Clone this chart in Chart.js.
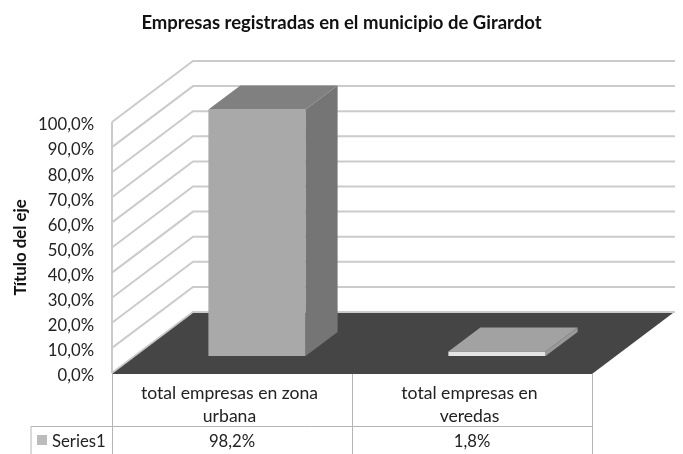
<!DOCTYPE html>
<html>
<head>
<meta charset="utf-8">
<title>Empresas registradas</title>
<script src="https://cdn.jsdelivr.net/npm/chart.js@4"></script>
<style>
  html, body { margin: 0; background: #fff; }
  canvas { display: block; }
</style>
</head>
<body>
<canvas id="empresasChart" width="683" height="454"></canvas>
<script>
const categories = [['total empresas en zona', 'urbana'], ['total empresas en', 'veredas']];
const seriesName = 'Series1';
const seriesValues = [98.2, 1.8];
const frontColors = ['#a9a9a9', '#e4e4e4'];
const topColors = ['#808080', '#a2a2a2'];
const sideColors = ['#757575', '#999999'];

const fontFamily = 'Lato, "Open Sans", sans-serif';
const textColor = '#222';
const percent = v => v.toFixed(1).replace('.', ',') + '%';

// depth of the fake 3D box and of the bars inside it
const wall = { dx: 81, dy: 61 };
const barShift = { dx: 25, dy: 17 };
const barDepth = { dx: 32, dy: 24 };

function poly(ctx, pts, fill) {
    ctx.beginPath();
    pts.forEach((p, i) => i ? ctx.lineTo(p[0], p[1]) : ctx.moveTo(p[0], p[1]));
    ctx.closePath();
    ctx.fillStyle = fill;
    ctx.fill();
}

const box3d = {
    id: 'box3d',
    beforeDatasetsDraw(chart) {
        const { ctx, scales: { y }, chartArea: a } = chart;
        ctx.save();
        ctx.strokeStyle = '#cbcbcb';
        ctx.lineWidth = 2;
        y.ticks.forEach(t => {
            const py = y.getPixelForValue(t.value);
            ctx.beginPath();
            ctx.moveTo(a.left, py);
            ctx.lineTo(a.left + wall.dx, py - wall.dy);
            ctx.lineTo(a.right + wall.dx + 2, py - wall.dy);
            ctx.stroke();
        });
        ctx.beginPath();
        ctx.moveTo(a.left, a.top);
        ctx.lineTo(a.left, a.bottom);
        ctx.stroke();

        const b = y.getPixelForValue(0) + 1;
        poly(ctx, [[a.left, b], [a.left + wall.dx, b - wall.dy], [a.right + wall.dx, b - wall.dy], [a.right, b]], '#454545');
        ctx.restore();
    },
    beforeDatasetDraw(chart) {
        chart.ctx.save();
        chart.ctx.translate(barShift.dx, -barShift.dy);
    },
    afterDatasetDraw(chart, args) {
        const ctx = chart.ctx;
        args.meta.data.forEach((bar, i) => {
            const l = bar.x - bar.width / 2, r = bar.x + bar.width / 2;
            poly(ctx, [[l, bar.y], [l + barDepth.dx, bar.y - barDepth.dy], [r + barDepth.dx, bar.y - barDepth.dy], [r, bar.y]], topColors[i]);
            poly(ctx, [[r, bar.y], [r + barDepth.dx, bar.y - barDepth.dy], [r + barDepth.dx, bar.base - barDepth.dy], [r, bar.base]], sideColors[i]);
        });
        ctx.restore();
    },
    afterDraw(chart) {
        // data table under the plot
        const { ctx, scales: { x }, chartArea: a } = chart;
        const rowTop = 426, tableBottom = chart.height, tableLeft = 31;
        ctx.save();
        ctx.strokeStyle = '#b5b5b5';
        ctx.lineWidth = 1;
        ctx.beginPath();
        ctx.moveTo(tableLeft, tableBottom);
        ctx.lineTo(tableLeft, rowTop + 0.5);
        ctx.lineTo(a.right, rowTop + 0.5);
        [a.left, (a.left + a.right) / 2, a.right].forEach(px => {
            ctx.moveTo(Math.round(px) + 0.5, a.bottom + 1);
            ctx.lineTo(Math.round(px) + 0.5, tableBottom);
        });
        ctx.stroke();

        ctx.fillStyle = '#bcbcbc';
        ctx.fillRect(37, 435, 10, 10);

        ctx.fillStyle = textColor;
        ctx.font = '16.7px ' + fontFamily;
        ctx.textBaseline = 'middle';
        ctx.textAlign = 'left';
        ctx.fillText(seriesName, 52, 442);
        ctx.textAlign = 'center';
        seriesValues.forEach((v, i) => ctx.fillText(percent(v), x.getPixelForTick(i), 442));
        ctx.restore();
    }
};

new Chart(document.getElementById('empresasChart').getContext('2d'), {
    type: 'bar',
    data: {
        labels: categories,
        datasets: [{
            label: seriesName,
            data: seriesValues,
            backgroundColor: frontColors,
            barPercentage: 0.405,
            categoryPercentage: 1,
            clip: false
        }]
    },
    plugins: [box3d],
    options: {
        responsive: false,
        animation: false,
        layout: { padding: 0 },
        plugins: {
            legend: { display: false },
            tooltip: { enabled: false },
            title: {
                display: true,
                text: 'Empresas registradas en el municipio de Girardot',
                color: '#111',
                font: { family: fontFamily, size: 18.5, weight: 'bold' },
                padding: { top: 12, bottom: 87.8 }
            }
        },
        scales: {
            x: {
                grid: { display: false, drawTicks: false },
                border: { display: false },
                afterFit: s => { s.height = 81; },
                ticks: {
                    color: textColor,
                    padding: 8,
                    labelOffset: -2.5,
                    maxRotation: 0,
                    autoSkip: false,
                    font: { family: fontFamily, size: 17.6, lineHeight: 1.35 }
                }
            },
            y: {
                min: 0,
                max: 100,
                grid: { display: false, drawTicks: false },
                border: { display: false },
                afterFit: s => { s.width = 112; },
                title: {
                    display: true,
                    text: 'Título del eje',
                    color: '#111',
                    padding: { top: 11, bottom: 0 },
                    font: { family: fontFamily, size: 16.8, weight: 'bold' }
                },
                ticks: {
                    stepSize: 10,
                    color: textColor,
                    padding: 18,
                    labelOffset: 3,
                    callback: v => percent(v),
                    font: { family: fontFamily, size: 16.7 }
                }
            },
            // empty axis, only keeps the right margin while the title stays centred on the canvas
            yRight: {
                position: 'right',
                display: true,
                grid: { display: false, drawTicks: false },
                border: { display: false },
                ticks: { display: false },
                afterFit: s => { s.width = 91; }
            }
        }
    }
});
</script>
</body>
</html>
